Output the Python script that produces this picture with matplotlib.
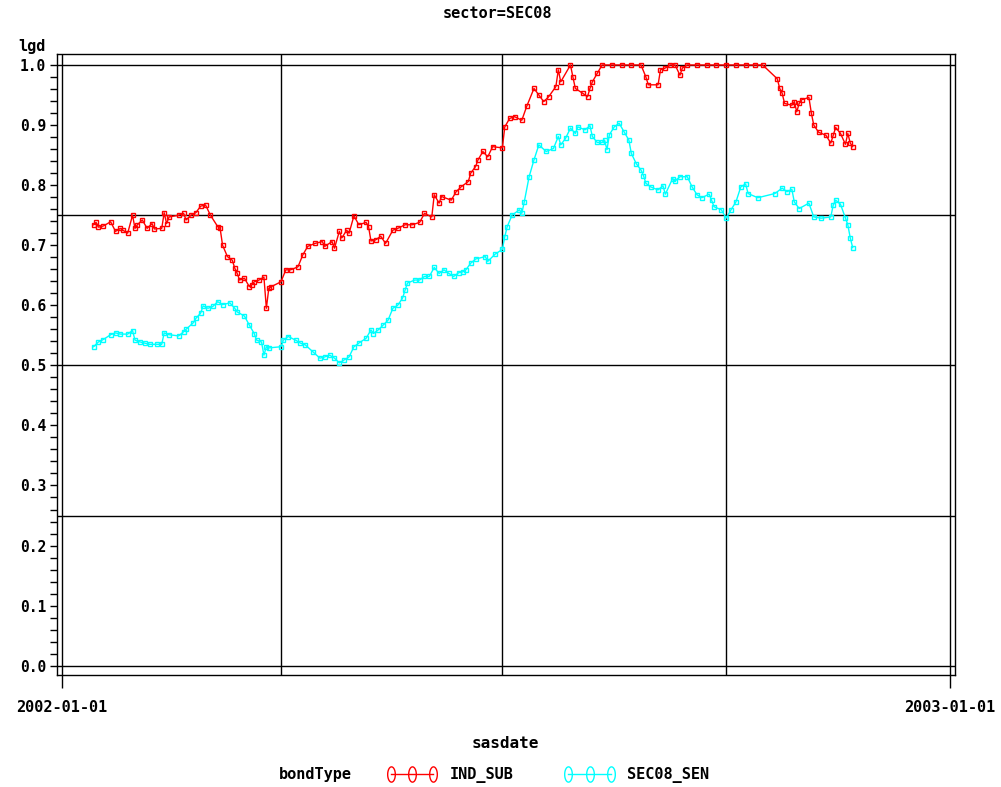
import pandas as pd
import numpy as np
import matplotlib
matplotlib.use('Agg')
import matplotlib.pyplot as plt
import matplotlib.dates as mdates
from matplotlib.lines import Line2D
from matplotlib.path import Path

# valores (dias desde 2002-01-01)
dias_ind = [13, 14, 15, 17, 20, 22, 24, 25, 27, 29, 30, 31, 33, 35, 37, 38, 41, 42, 43, 44,
            48, 50, 51, 53, 55, 57, 59, 61, 64, 65, 66, 68, 70, 71, 72, 73, 75, 77, 78, 79,
            81, 83, 84, 85, 86, 90, 92, 94, 97, 99, 101, 104, 107, 108, 111, 112, 114, 115,
            117, 118, 120, 122, 125, 126, 127, 129, 131, 133, 136, 138, 141, 144, 147, 149,
            152, 153, 155, 156, 160, 162, 164, 167, 168, 170, 171, 173, 175, 177, 181, 182,
            184, 186, 189, 191, 194, 196, 198, 200, 203, 204, 205, 209, 210, 211, 214, 216,
            217, 218, 220, 222, 226, 230, 234, 238, 240, 241, 245, 246, 248, 250, 252, 254,
            255, 257, 261, 265, 269, 273, 277, 281, 285, 288, 294, 295, 296, 297, 300, 301,
            302, 303, 304, 307, 308, 309, 311, 314, 316, 317, 318, 320, 322, 323, 324, 325]
lgd_ind = [0.734, 0.738, 0.730, 0.732, 0.739, 0.723, 0.728, 0.725, 0.720, 0.750, 0.728, 0.734,
           0.742, 0.728, 0.736, 0.727, 0.728, 0.754, 0.736, 0.747, 0.750, 0.753, 0.742, 0.750,
           0.754, 0.765, 0.767, 0.750, 0.731, 0.728, 0.700, 0.681, 0.675, 0.662, 0.653, 0.642,
           0.645, 0.631, 0.634, 0.639, 0.642, 0.647, 0.595, 0.628, 0.631, 0.639, 0.659, 0.659,
           0.664, 0.684, 0.698, 0.703, 0.706, 0.698, 0.706, 0.695, 0.723, 0.712, 0.725, 0.720,
           0.749, 0.734, 0.738, 0.731, 0.707, 0.709, 0.715, 0.703, 0.725, 0.728, 0.734, 0.734,
           0.738, 0.753, 0.747, 0.784, 0.770, 0.781, 0.775, 0.789, 0.797, 0.806, 0.820, 0.831,
           0.842, 0.856, 0.847, 0.864, 0.862, 0.897, 0.911, 0.914, 0.908, 0.931, 0.961, 0.950,
           0.939, 0.947, 0.964, 0.992, 0.972, 1.000, 0.980, 0.961, 0.953, 0.947, 0.961, 0.972,
           0.986, 1.000, 1.000, 1.000, 1.000, 1.000, 0.980, 0.967, 0.967, 0.992, 0.995, 1.000,
           1.000, 0.983, 0.995, 1.000, 1.000, 1.000, 1.000, 1.000, 1.000, 1.000, 1.000, 1.000,
           0.977, 0.961, 0.953, 0.936, 0.933, 0.939, 0.922, 0.936, 0.942, 0.946, 0.920, 0.900,
           0.888, 0.883, 0.870, 0.883, 0.896, 0.886, 0.868, 0.886, 0.870, 0.864]

dias_sen = [13, 15, 17, 20, 22, 24, 27, 29, 30, 32, 34, 36, 39, 41, 42, 44, 48, 50, 51, 54,
            55, 57, 58, 60, 62, 64, 66, 69, 71, 72, 75, 77, 79, 80, 82, 83, 84, 85, 90, 91,
            93, 96, 98, 100, 103, 106, 108, 110, 112, 114, 116, 118, 120, 122, 125, 127, 128,
            130, 132, 134, 136, 138, 140, 141, 142, 145, 147, 149, 151, 153, 155, 157, 159,
            161, 163, 165, 166, 168, 170, 174, 175, 178, 181, 182, 183, 185, 188, 189, 190,
            192, 194, 196, 199, 202, 204, 205, 207, 209, 211, 212, 215, 217, 218, 220, 222,
            223, 224, 225, 227, 229, 231, 233, 234, 236, 238, 239, 240, 242, 245, 247, 248,
            251, 252, 254, 257, 259, 261, 263, 266, 267, 268, 271, 273, 275, 277, 279, 281,
            282, 286, 293, 296, 298, 300, 301, 303, 307, 309, 312, 316, 317, 318, 320, 322,
            323, 324, 325]
lgd_sen = [0.531, 0.539, 0.543, 0.551, 0.554, 0.552, 0.552, 0.558, 0.542, 0.539, 0.537, 0.535,
           0.535, 0.535, 0.554, 0.551, 0.549, 0.556, 0.560, 0.571, 0.578, 0.587, 0.599, 0.595,
           0.598, 0.606, 0.601, 0.604, 0.595, 0.589, 0.582, 0.567, 0.553, 0.542, 0.539, 0.517,
           0.531, 0.529, 0.531, 0.542, 0.548, 0.542, 0.537, 0.534, 0.523, 0.512, 0.514, 0.517,
           0.512, 0.504, 0.509, 0.514, 0.531, 0.537, 0.545, 0.559, 0.553, 0.559, 0.567, 0.575,
           0.595, 0.600, 0.612, 0.625, 0.637, 0.642, 0.642, 0.648, 0.648, 0.663, 0.653, 0.659,
           0.653, 0.648, 0.654, 0.656, 0.659, 0.670, 0.677, 0.681, 0.673, 0.685, 0.693, 0.714,
           0.731, 0.750, 0.759, 0.753, 0.772, 0.814, 0.842, 0.867, 0.856, 0.861, 0.881, 0.867,
           0.878, 0.895, 0.886, 0.897, 0.892, 0.899, 0.881, 0.871, 0.871, 0.875, 0.859, 0.884,
           0.897, 0.903, 0.889, 0.875, 0.853, 0.836, 0.825, 0.816, 0.803, 0.797, 0.792, 0.799,
           0.785, 0.811, 0.807, 0.814, 0.814, 0.797, 0.784, 0.779, 0.785, 0.775, 0.764, 0.759,
           0.745, 0.759, 0.772, 0.797, 0.802, 0.786, 0.779, 0.786, 0.795, 0.789, 0.793, 0.772,
           0.761, 0.770, 0.747, 0.745, 0.747, 0.767, 0.775, 0.768, 0.745, 0.734, 0.712, 0.696]

y_ticks = [0.0, 0.1, 0.2, 0.3, 0.4, 0.5, 0.6, 0.7, 0.8, 0.9, 1.0]
y_grid = [0.0, 0.25, 0.5, 0.75, 1.0]
x_ticks = ['2002-01-01', '2003-01-01']
x_grid = ['2002-01-01', '2002-04-01', '2002-07-01', '2002-10-01', '2003-01-01']

base = pd.Timestamp('2002-01-01')
fechas_ind = base + pd.to_timedelta(dias_ind, unit='D')
fechas_sen = base + pd.to_timedelta(dias_sen, unit='D')

fuente = 'DejaVu Sans Mono'
plt.rcParams['font.family'] = fuente
plt.rcParams['font.weight'] = 'bold'

fig = plt.figure(figsize=(10.01, 7.87), dpi=100)
ax = fig.add_axes([57 / 1001, 1 - 675 / 787, 898 / 1001, 621 / 787])

for g in x_grid:
    ax.axvline(pd.Timestamp(g), color='black', lw=1, zorder=1)
for g in y_grid:
    ax.axhline(g, color='black', lw=1, zorder=1)

ax.plot(fechas_ind, lgd_ind, color='red', lw=1, marker='s', markersize=3.5,
        mfc='none', mew=1, zorder=3)
ax.plot(fechas_sen, lgd_sen, color='cyan', lw=1, marker='s', markersize=3.5,
        mfc='none', mew=1, zorder=3)

x0 = mdates.date2num(pd.Timestamp('2002-01-01'))
x1 = mdates.date2num(pd.Timestamp('2003-01-01'))
ax.set_xlim(x0 - 2.05, x1 + 2.05)
ax.set_ylim(-0.0155, 1.0183)

ax.set_xticks([pd.Timestamp(t) for t in x_ticks])
ax.set_xticklabels(x_ticks, fontsize=11, fontweight='bold')
ax.tick_params(axis='x', direction='out', length=9, width=1, pad=9)

ax.set_yticks(y_ticks)
ax.set_yticklabels([f'{v:.1f}' for v in y_ticks], fontsize=10.5, fontweight='bold')
ax.set_yticks(np.arange(0, 1.001, 0.02), minor=True)
ax.tick_params(axis='y', which='both', direction='out', length=5, width=1, pad=3)

for s in ax.spines.values():
    s.set_linewidth(1)
    s.set_color('black')

fig.text(497 / 1001, 1 - 14 / 787, 'sector=SEC08', ha='center', va='center',
         fontsize=11, fontweight='bold')
fig.text(32 / 1001, 1 - 47 / 787, 'lgd', ha='center', va='center',
         fontsize=11, fontweight='bold')
fig.text(505 / 1001, 1 - 743 / 787, 'sasdate', ha='center', va='center',
         fontsize=11.5, fontweight='bold')
fig.text(315 / 1001, 1 - 775 / 787, 'bondType', ha='center', va='center',
         fontsize=11, fontweight='bold')

# circulo alargado como en la leyenda de SAS
t = np.linspace(0, 2 * np.pi, 40)
elipse = Path(np.column_stack([0.5 * np.cos(t), np.sin(t)]))

handles = [Line2D([], [], color='red', lw=1, marker=elipse, markersize=11, mfc='none', mew=1),
           Line2D([], [], color='cyan', lw=1, marker=elipse, markersize=11, mfc='none', mew=1)]
leg = fig.legend(handles, ['IND_SUB', 'SEC08_SEN'], ncol=2, frameon=False,
                 loc='center left', bbox_to_anchor=(386 / 1001, 1 - 775 / 787),
                 numpoints=3, handlelength=3.4, columnspacing=3.3, handletextpad=0.75,
                 borderpad=0, borderaxespad=0,
                 prop={'family': fuente, 'weight': 'bold', 'size': 11})

fig.savefig('out.png', dpi=100)
